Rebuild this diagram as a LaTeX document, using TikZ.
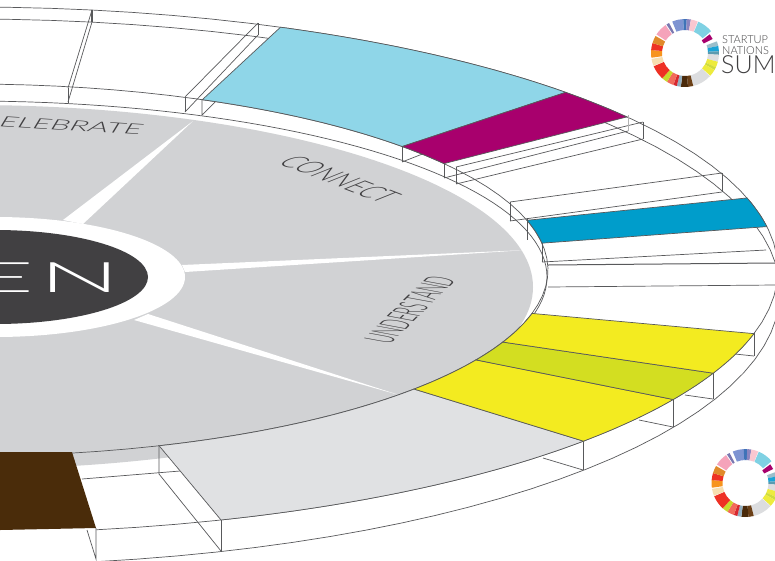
\documentclass[tikz,border=0pt]{standalone}
\usepackage{fontspec}
\setsansfont{Liberation Sans}
\newfontfamily\thinfont[UprightFont=* Light]{Lato}
\usetikzlibrary{calc}
\definecolor{discgrey}{HTML}{D1D2D4}
\definecolor{palegrey}{HTML}{E0E1E3}
\definecolor{hubgrey}{HTML}{414042}
\definecolor{edgegrey}{HTML}{58595B}
\definecolor{skyblue}{HTML}{8FD6E8}
\definecolor{plum}{HTML}{A8006D}
\definecolor{oceanblue}{HTML}{009DCB}
\definecolor{lemon}{HTML}{F3EB20}
\definecolor{lime}{HTML}{D3DE21}
\definecolor{umber}{HTML}{4A2C0A}
% the four rims of the ring, t in degrees
\newcommand{\rimO}[2]{plot[domain=#1:#2,samples=60] ({-30+808*cos(\x)},{270-263*sin(\x)})}
\newcommand{\toO}[2]{-- plot[domain=#1:#2,samples=60] ({-30+808*cos(\x)},{270-263*sin(\x)})}
\newcommand{\rimF}[2]{plot[domain=#1:#2,samples=60] ({-30+810*cos(\x)},{292-273*sin(\x)})}
\newcommand{\rimI}[2]{plot[domain=#1:#2,samples=60] ({-30+578*cos(\x)},{270-186*sin(\x)})}
\newcommand{\toI}[2]{-- plot[domain=#1:#2,samples=60] ({-30+578*cos(\x)},{270-186*sin(\x)})}
\newcommand{\rimE}[2]{plot[domain=#1:#2,samples=60] ({-30+577*cos(\x)},{277-176*sin(\x)})}
\tikzset{
  ringlogo/.pic={
    \foreach \a/\b/\c in {
      112/93/7E94D2, 93/87/3F73B8, 87/80/8C85C0, 80/68/F9C7D0, 67/40/7FD1E3,
      20/12/9BBFCB, 12/3/1CA4D6, 3/-3/5B9BB0, -3/-15/DDDEE0, -15/-25/EDEB3D,
      -25/-30/CFDC3C, -30/-42/EDEB3D, -43/-76/DCDDDF, -76/-85/6B4017, -85/-97/4A2A0A,
      -97/-104/93AFC0, -104/-110/D7282F, -110/-122/F26B5B, -122/-132/C8D92E,
      -132/-157/EE3124, -158/-170/F7DFB0, -172/-185/F7941D, 175/163/EE3124,
      163/150/E08A2A, 147/125/F5A3BA, 123/118/7A78B0}{
      \definecolor{seg}{HTML}{\c}
      \fill[seg] (\a:34pt) arc[start angle=\a,end angle=\b,radius=34pt]
        -- (\b:23pt) arc[start angle=\b,end angle=\a,radius=23pt] -- cycle;
    }
    \fill[plum] (37:31pt) arc[start angle=37,end angle=27,radius=31pt]
      -- (27:21pt) arc[start angle=27,end angle=37,radius=21pt] -- cycle;
  }
}
\begin{document}
\begin{tikzpicture}[x=1pt,y=-1pt,
    edge/.style={draw=edgegrey, line width=0.7pt},
    wall/.style={draw=edgegrey, line width=1pt},
    panel/.style={draw=edgegrey, line width=0.7pt},
    gap/.style={fill=white},
    curved/.style={font=\thinfont\fontsize{10}{10}\selectfont, text=hubgrey, inner sep=0pt, anchor=base west},
    logotext/.style={text=hubgrey, inner sep=0pt, anchor=base west},
]
\useasboundingbox (0,0) rectangle (775,560);
\clip (0,0) rectangle (775,560);
\fill[white] (0,0) rectangle (775,560);

% disc and hub
\fill[discgrey] (-30,287) ellipse[x radius=563pt, y radius=182pt];
\fill[gap] (193,121) -- (63,220) -- (83,224) -- cycle;
\fill[gap] (527,250) -- (182,265) -- (185,272) -- cycle;
\fill[gap] (399,395) -- (134,320) -- (148,314) -- cycle;
\fill[white] (-5,277) ellipse[x radius=190pt, y radius=60pt];
\fill[hubgrey] (-5,277) ellipse[x radius=153pt, y radius=47pt];
\node[curved, text=white, cm={10.7,0,0,4.2,(0,0)}] (hub) at (-30,292) {E\kern0.5ptN};

% rims
\draw[edge] \rimO{90}{-81};
\draw[edge] \rimF{90}{-81};
\draw[edge] \rimI{90}{-80};
\draw[edge] \rimE{90}{-23};
\draw[edge] (82,479) -- (180,471);

% walls on the far side
\draw[wall, line width=1.3pt] (92,10) -- (92,22);
\draw[edge] (92,10) -- (68,88) (92,22) -- (68,102);
\draw[wall] (68,88) -- (68,103);
\draw[edge] (258,23) -- (185,97) (258,35) -- (185,112);
\draw[edge] (258,23) -- (258,35) (185,97) -- (185,112);
\draw[edge] (202,99) -- (202,115) -- (215,102);
\draw[wall] (402,145) -- (402,162);
\draw[edge] (402,162) -- (425,153);
\draw[wall] (444,162) -- (444,178);
\draw[wall] (456,167) -- (456,184);
\draw[edge] (456,167) -- (643,122) (444,178) -- (628,131) (456,184) -- (643,139);
\draw[wall] (643,122) -- (643,139);
\draw[edge, draw=gray!60] (628,115) -- (628,131);
\draw[edge] (510,202) -- (722,173) (510,221) -- (722,192);
\draw[wall] (510,202) -- (510,221);
\draw[edge] (722,173) -- (722,192);
\draw[edge] (527,218) -- (527,240) (542,242) -- (542,262);
\draw[edge] (542,262) -- (766,250);
\draw[wall] (548,265) -- (775,263);
\draw[edge] (548,287) -- (775,285);

% walls on the near side
\draw[edge] (159,445) -- (159,474) -- (221,551);
\draw[edge] (87,530) -- (96,559) -- (96,528);
\draw[edge] (221,520) -- (221,551);
\draw[edge] (543,458) -- (583,470) (639,420) -- (673,427) (685,395) -- (713,399) (735,354) -- (754,356);
\draw[wall] (583,441) -- (583,470);
\draw[wall] (673,400) -- (673,427);
\draw[wall] (713,373) -- (713,399);
\draw[wall] (754,333) -- (754,356);

% coloured panels
\draw[panel, fill=palegrey] \rimI{-70.9}{-39.8} \toO{-40.6}{-71.9} -- cycle;
\draw[panel, fill=skyblue] \rimO{67.4}{42.5} \toI{41.6}{66.3} -- cycle;
\draw[panel, fill=plum] \rimO{42.5}{35.6} \toI{34.9}{41.6} -- cycle;
\draw[panel, fill=oceanblue] \rimO{15.9}{9.5} \toI{8.3}{15.5} -- cycle;
\draw[panel, fill=lemon] \rimI{-39.8}{-28.9} \toO{-29.5}{-40.6} -- cycle;
\draw[panel, fill=lime] \rimI{-28.9}{-22.8} \toO{-23.1}{-29.5} -- cycle;
\draw[panel, fill=lemon] \rimI{-22.8}{-13.5} \toO{-14}{-23.1} -- cycle;
\fill[umber] (0,452) -- (72,452) -- (96,528) -- (0,530) -- cycle;

% labels on the disc
\node[curved, cm={3.05,-0.19,0.85,1.4,(0,0)}] (celebrate) at (-3,126) {ELEBRATE};
\node[curved, cm={2.2,-0.85,3.0,1.2,(0,0)}] (connect) at (276,163) {CONNECT};
\node[curved, cm={1.0,0.98,-3.8,0.7,(0,0)}] (understand) at (390,345) {UNDERSTAND};

% logos
\pic at (685,53) {ringlogo};
\pic at (745.5,483) {ringlogo};
\node[logotext, font=\thinfont\fontsize{11}{11}\selectfont] (startup) at (722,43) {STARTUP};
\node[logotext, font=\thinfont\fontsize{11}{11}\selectfont] (nations) at (722,54) {NATIONS};
\node[logotext, font=\thinfont\fontsize{25}{25}\selectfont] (summ) at (721,73) {SUMM};
\end{tikzpicture}
\end{document}
